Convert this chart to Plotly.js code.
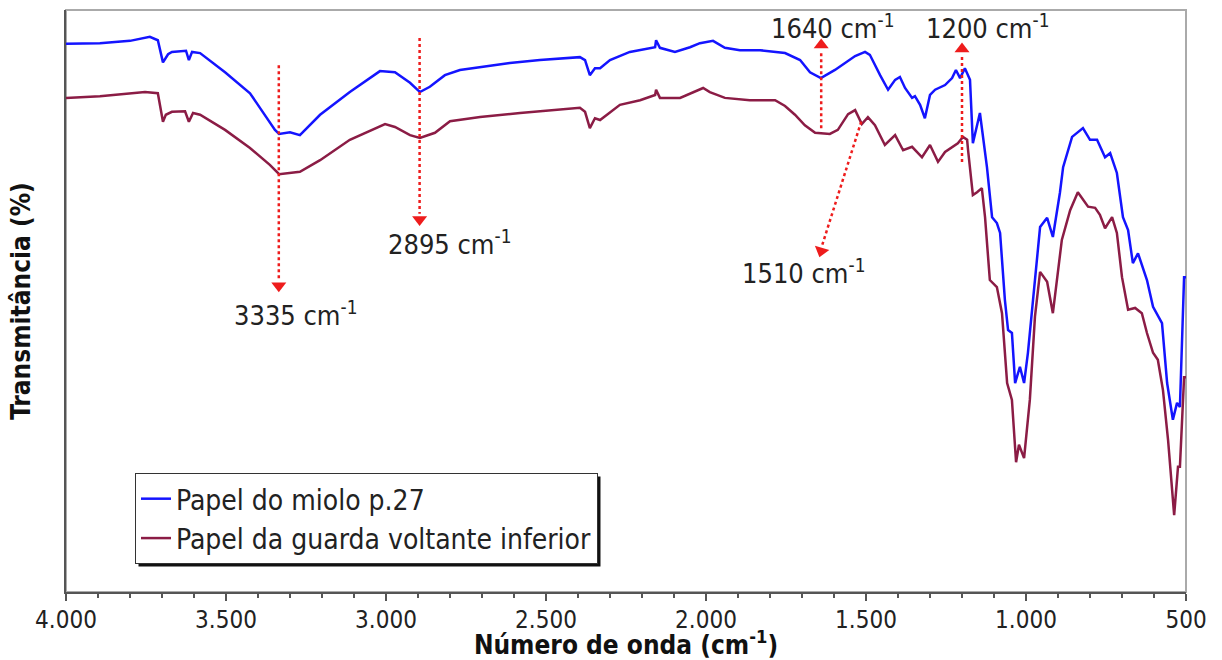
<!DOCTYPE html>
<html>
<head>
<meta charset="utf-8">
<script src="https://cdn.plot.ly/plotly-3.0.1.min.js"></script>
<style>html,body{margin:0;padding:0;background:#fff;}#chart{width:1222px;height:660px;}</style>
</head>
<body>
<div id="chart"></div>
<script>
// Wavenumber (cm-1) and transmittance (arbitrary %)
var wnMiolo = [4000,3894,3800,3738,3713,3697,3681,3669,3625,3616,
  3606,3581,3503,3425,3347,3334,3300,3269,3206,3113,
  3019,2972,2925,2894,2863,2816,2769,2706,2613,2519,
  2394,2378,2363,2347,2331,2300,2238,2159,2156,2144,
  2097,2050,2019,1978,1941,1894,1831,1753,1706,1675,
  1641,1597,1534,1503,1488,1456,1431,1409,1394,1378,
  1356,1347,1331,1316,1300,1284,1253,1231,1219,1206,
  1191,1175,1166,1144,1122,1106,1091,1081,1066,1056,
  1044,1034,1019,1006,994,978,956,934,916,894,
  884,856,822,800,778,753,737,716,697,681,
  666,650,622,603,575,559,541,528,519,506,500];
var tMiolo = [94.2,94.3,94.7,95.4,94.8,91.0,92.4,92.8,93.0,91.4,
  92.8,92.6,89.3,85.7,79.4,78.7,79.0,78.5,82.0,85.9,
  89.5,89.3,87.5,85.9,86.8,88.8,89.7,90.2,90.9,91.4,
  91.9,91.4,88.8,90.0,90.0,91.4,92.8,93.6,94.8,93.5,
  92.8,93.6,94.3,94.7,93.5,93.1,93.1,92.6,91.4,89.3,
  88.3,89.7,92.1,92.8,92.3,88.8,86.3,88.0,88.5,86.6,
  84.9,85.2,83.7,81.4,85.4,86.3,87.1,88.3,89.7,88.3,
  90.0,88.0,77.1,82.3,73.0,64.4,63.4,61.7,50.2,45.0,
  44.5,35.9,38.7,35.9,41.1,50.2,62.7,64.3,61.0,68.6,
  73.0,78.2,79.7,77.7,77.7,74.7,75.4,72.0,64.4,62.2,
  56.5,58.2,53.6,49.0,46.2,35.9,29.6,32.5,31.8,54.1,54.1];

var wnGuarda = [4000,3894,3753,3713,3697,3688,3669,3628,3616,3603,
  3581,3503,3425,3363,3334,3269,3206,3113,3003,2972,
  2925,2894,2847,2800,2706,2581,2394,2378,2363,2347,
  2331,2269,2206,2159,2156,2144,2081,2019,2009,1988,
  1941,1863,1784,1753,1722,1691,1659,1613,1588,1556,
  1534,1513,1494,1472,1441,1409,1384,1356,1325,1300,
  1275,1253,1213,1197,1184,1181,1166,1153,1138,1128,
  1113,1091,1075,1059,1044,1031,1022,1006,988,972,
  956,934,916,888,862,838,806,784,769,753,
  731,716,700,681,659,638,622,603,588,572,
  556,537,525,519,506,500];
var tGuarda = [84.9,85.2,85.9,85.7,80.8,82.0,82.5,82.6,80.8,82.3,
  82.0,79.4,76.3,73.4,71.8,72.2,74.2,77.7,80.4,79.9,
  78.5,78.0,78.9,80.9,81.6,82.3,83.2,82.5,79.7,81.4,
  81.1,83.7,84.5,85.4,86.3,84.9,84.9,86.3,86.6,85.9,
  84.9,84.5,84.5,83.5,82.0,80.2,78.9,78.7,79.4,82.1,
  82.8,80.4,81.6,80.2,76.8,78.5,75.9,76.5,74.7,76.8,
  73.9,75.6,77.1,78.2,77.7,75.9,68.2,68.7,69.4,64.4,
  53.6,52.4,47.9,35.9,33.0,22.3,25.3,23.0,33.0,47.3,
  55.0,53.3,47.9,60.5,65.6,68.7,66.2,66.0,64.8,62.5,
  64.4,61.7,54.1,48.5,48.8,47.9,44.5,41.1,39.9,34.7,
  26.1,13.2,21.5,21.5,36.9,36.9];

var seriesNames = ["Papel do miolo p.27", "Papel da guarda voltante inferior"];
var seriesColors = ["#1414ff", "#8b1c45"];

// Peak markers: dotted red arrows
var peakLabels = ["3335 cm<sup>-1</sup>", "2895 cm<sup>-1</sup>", "1510 cm<sup>-1</sup>", "1640 cm<sup>-1</sup>", "1200 cm<sup>-1</sup>"];
var labelX = [3281, 2800, 1694, 1603, 1119];
var labelY = [47.8, 60.1, 55.0, 97.1, 97.1];
var arrowStartX = [3335, 2895, 1515, 1640, 1200];
var arrowStartY = [90.5, 95.2, 80.8, 79.7, 73.9];
var arrowEndX = [3335, 2895, 1638, 1640, 1200];
var arrowEndY = [53.6, 65.0, 59.4, 93.0, 92.3];
var headY = [52.6, 64.0, 58.6, 94.0, 93.3];
var headX = [3335, 2895, 1640, 1640, 1200];
var headSymbol = ["triangle-down", "triangle-down", "triangle-down", "triangle-up", "triangle-up"];
var headAngle = [0, 0, 16, 0, 0];

var FONT = "'DejaVu Sans Condensed', 'Liberation Sans Narrow', 'DejaVu Sans', sans-serif";

var traces = [
  {x: wnMiolo, y: tMiolo, type: "scatter", mode: "lines", name: seriesNames[0],
   line: {color: seriesColors[0], width: 2.5}},
  {x: wnGuarda, y: tGuarda, type: "scatter", mode: "lines", name: seriesNames[1],
   line: {color: seriesColors[1], width: 2.5}}
];
for (var i = 0; i < arrowStartX.length; i++) {
  traces.push({x: [arrowStartX[i], arrowEndX[i]], y: [arrowStartY[i], arrowEndY[i]],
    type: "scatter", mode: "lines", showlegend: false, hoverinfo: "skip",
    line: {color: "#ee1c1c", width: 2.5, dash: "dot"}});
}
traces.push({x: headX, y: headY, type: "scatter", mode: "markers", showlegend: false, hoverinfo: "skip",
  marker: {symbol: headSymbol, angle: headAngle, size: 13, color: "#ee1c1c"}});

var annotations = [];
for (var j = 0; j < peakLabels.length; j++) {
  annotations.push({x: labelX[j], y: labelY[j], xref: "x", yref: "y", text: peakLabels[j],
    showarrow: false, font: {family: FONT, size: 27, color: "#222"}});
}

var layout = {
  width: 1222, height: 660,
  margin: {l: 66, r: 36, t: 10, b: 68},
  paper_bgcolor: "#fff", plot_bgcolor: "#fff",
  separators: ",.",
  showlegend: true,
  font: {family: FONT, color: "#222"},
  xaxis: {
    range: [4000, 500], tick0: 500, dtick: 500, separatethousands: true, tickformat: ",d",
    ticks: "outside", ticklen: 7, tickwidth: 1.5, tickcolor: "#555",
    ticklabelstandoff: -2,
    minor: {dtick: 100, ticks: "outside", ticklen: 4, tickwidth: 1.5, tickcolor: "#555"},
    showline: true, linecolor: "#555", linewidth: 2, mirror: false,
    showgrid: false, zeroline: false,
    tickfont: {family: FONT, size: 24, color: "#222"},
    title: {text: "Número de onda (cm<sup>-1</sup>)", standoff: 0,
      font: {family: FONT, size: 26, weight: "bold", color: "#111"}}
  },
  yaxis: {
    range: [0, 100], showticklabels: false, ticks: "", showgrid: false, zeroline: false,
    showline: true, linecolor: "#555", linewidth: 2, mirror: false,
    title: {text: "Transmitância (%)", standoff: 26,
      font: {family: FONT, size: 26, weight: "bold", color: "#111"}}
  },
  legend: {
    x: 0.0616, y: 0.2045, xanchor: "left", yanchor: "top",
    bgcolor: "#fff", bordercolor: "#333", borderwidth: 1,
    font: {family: FONT, size: 28, color: "#222"},
    tracegroupgap: 0
  },
  shapes: [
    {type: "rect", xref: "paper", yref: "paper", x0: 0, x1: 1, y0: 0, y1: 1,
     line: {color: "#aaa", width: 2}, layer: "below"}
  ],
  annotations: annotations
};

Plotly.newPlot("chart", traces, layout, {displayModeBar: false, staticPlot: true}).then(function (gd) {
  // drop shadow behind the legend box, placed from the rendered legend size
  var bg = gd.querySelector(".legend .bg");
  if (!bg) return;
  var r = bg.getBoundingClientRect();
  var c = gd.getBoundingClientRect();
  var fs = gd._fullLayout._size;
  var off = 3;
  function px2x(px) { return (px - fs.l) / fs.w; }
  function py2y(py) { return 1 - (py - fs.t) / fs.h; }
  var left = r.left - c.left, top = r.top - c.top, right = r.right - c.left, bottom = r.bottom - c.top;
  return Plotly.relayout(gd, {"shapes[1]": {type: "rect", xref: "paper", yref: "paper",
    x0: px2x(left + off), x1: px2x(right + off), y0: py2y(bottom + off), y1: py2y(top + off),
    fillcolor: "#111", line: {width: 0}, layer: "above"}});
});
</script>
</body>
</html>
